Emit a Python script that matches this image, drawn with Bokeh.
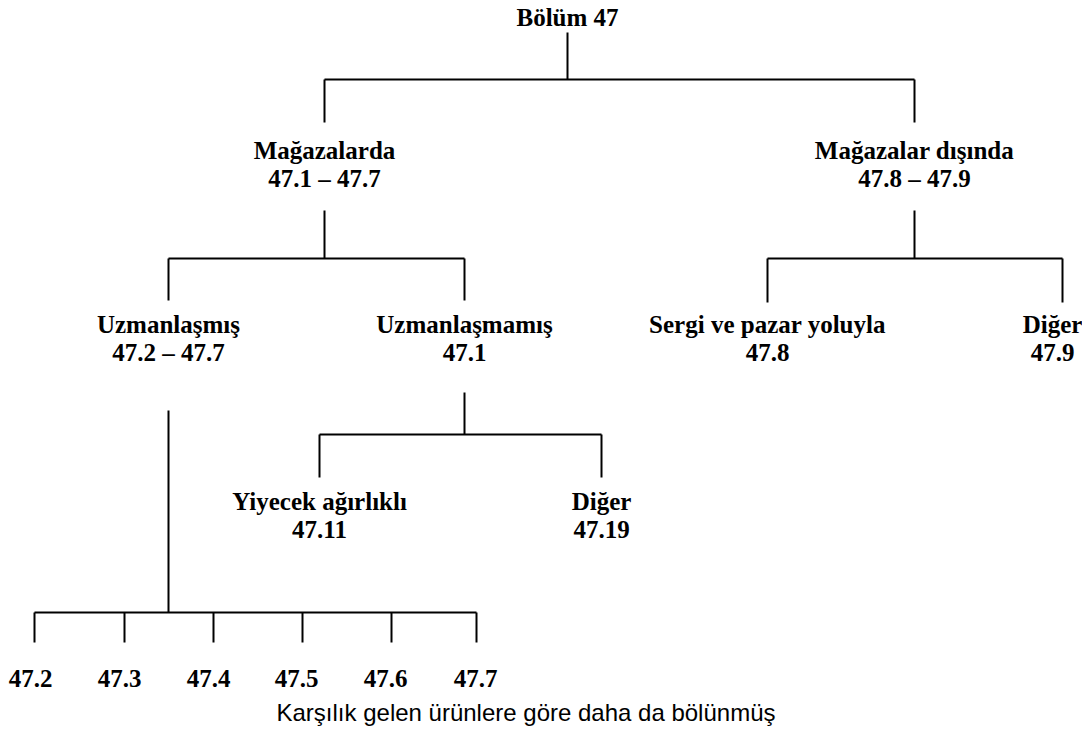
from bokeh.plotting import figure
from bokeh.models import Range1d
from bokeh.core.properties import value
from bokeh.embed import file_html
from bokeh.resources import INLINE

# ---- data: tree of NACE division 47 ----
node_ids = ["root", "mag", "out", "uzm", "nonuzm", "sergi", "diger9",
            "yiy", "diger19", "c2", "c3", "c4", "c5", "c6", "c7"]
node_names = ["Bölüm 47", "Mağazalarda", "Mağazalar dışında", "Uzmanlaşmış",
              "Uzmanlaşmamış", "Sergi ve pazar yoluyla", "Diğer",
              "Yiyecek ağırlıklı", "Diğer", "", "", "", "", "", ""]
node_codes = ["", "47.1 – 47.7", "47.8 – 47.9", "47.2 – 47.7", "47.1", "47.8",
              "47.9", "47.11", "47.19", "47.2", "47.3", "47.4", "47.5", "47.6", "47.7"]
node_parents = [None, "root", "root", "mag", "mag", "out", "out",
                "nonuzm", "nonuzm", "uzm", "uzm", "uzm", "uzm", "uzm", "uzm"]
footnote = "Karşılık gelen ürünlere göre daha da bölünmüş"

# ---- layout (page pixel positions) ----
node_x = {"root": 567, "mag": 324, "out": 914, "uzm": 168, "nonuzm": 464,
          "sergi": 767, "diger9": 1052, "yiy": 319, "diger19": 601,
          "c2": 30, "c3": 119, "c4": 208, "c5": 296, "c6": 385, "c7": 475}
branch_x = {"diger9": 1062, "c2": 34, "c3": 124, "c4": 213, "c5": 302,
            "c6": 391, "c7": 476}
name_y = {"root": 17, "mag": 150, "out": 150, "uzm": 324, "nonuzm": 324,
          "sergi": 324, "diger9": 324, "yiy": 501, "diger19": 501}
code_y = {"mag": 178, "out": 178, "uzm": 352, "nonuzm": 352, "sergi": 352,
          "diger9": 352, "yiy": 529, "diger19": 529,
          "c2": 678, "c3": 678, "c4": 678, "c5": 678, "c6": 678, "c7": 678}
# per parent: (stem top, bar y, child drop bottom)
group_geom = {"root": (32, 79, 122), "mag": (210, 258, 300), "out": (210, 258, 302),
              "nonuzm": (392, 434, 477), "uzm": (410, 612, 642)}

W, H = 1082, 727
p = figure(width=W, height=H, output_backend="svg", toolbar_location=None,
           x_range=Range1d(0, W), y_range=Range1d(H, 0), min_border=0)
p.axis.visible = False
p.grid.visible = False
p.outline_line_color = None
p.background_fill_color = "white"

x0s, y0s, x1s, y1s = [], [], [], []
for par, (top, bar, drop) in group_geom.items():
    kids = [n for n, pr in zip(node_ids, node_parents) if pr == par]
    kx = [branch_x.get(k, node_x[k]) for k in kids]
    px = node_x[par]
    x0s.append(px); y0s.append(top); x1s.append(px); y1s.append(bar)
    x0s.append(min(kx)); y0s.append(bar); x1s.append(max(kx)); y1s.append(bar)
    for k in kx:
        x0s.append(k); y0s.append(bar); x1s.append(k); y1s.append(drop)
p.segment(x0=x0s, y0=y0s, x1=x1s, y1=y1s, line_color="black", line_width=2)

tx, ty, tt = [], [], []
for nid, nm, cd in zip(node_ids, node_names, node_codes):
    if nm:
        tx.append(node_x[nid]); ty.append(name_y[nid]); tt.append(nm)
    if cd:
        tx.append(node_x[nid]); ty.append(code_y[nid]); tt.append(cd)
p.text(x=tx, y=ty, text=tt, text_font=value("Liberation Serif"),
       text_font_style="bold", text_font_size="25px", text_color="black",
       text_align="center", text_baseline="middle")

p.text(x=[276], y=[712], text=[footnote], text_font=value("Liberation Sans"),
       text_font_size="24px", text_color="black", text_align="left",
       text_baseline="middle")

open("out.html", "w").write(file_html(p, INLINE))
